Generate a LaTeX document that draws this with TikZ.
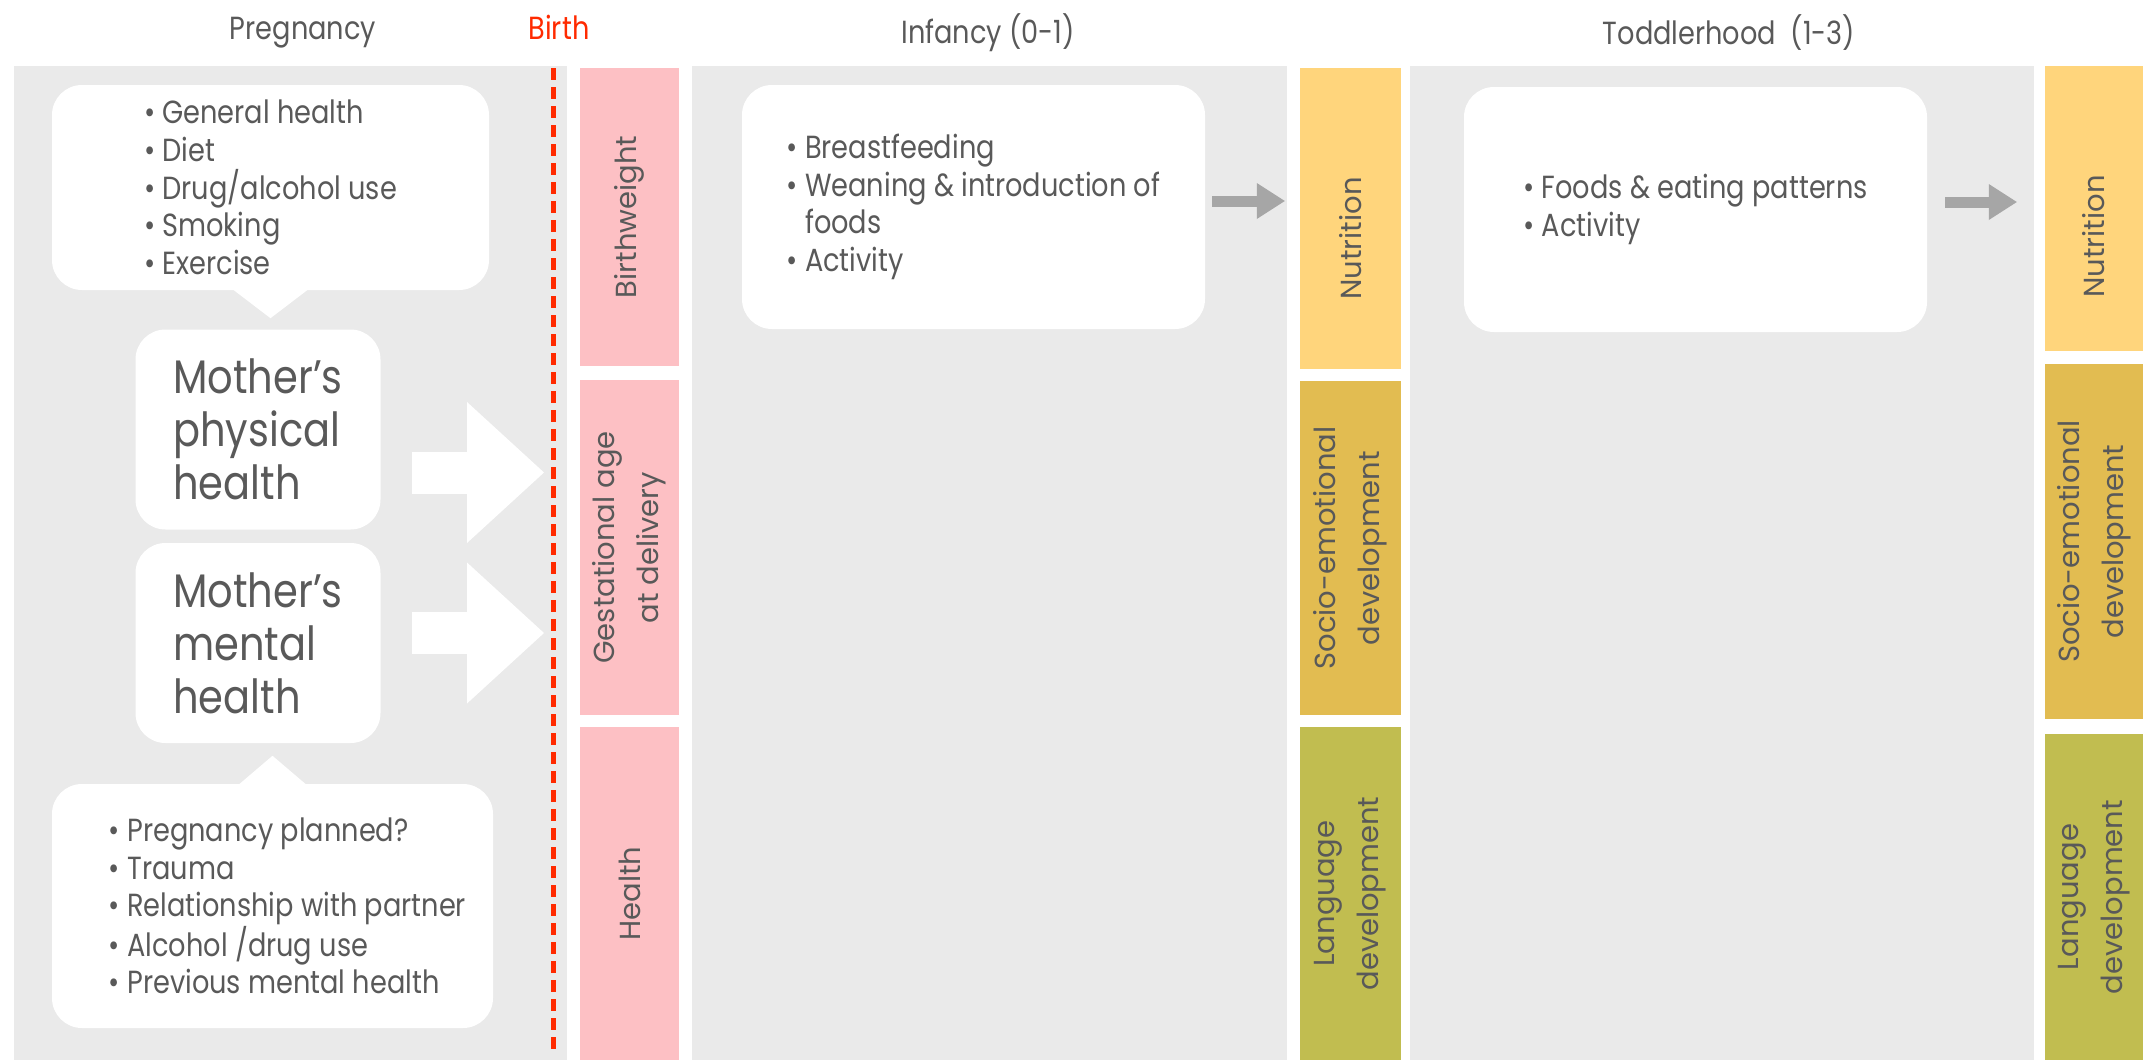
\documentclass[tikz,border=0pt]{standalone}
\usepackage{fontspec}
\setmainfont{Poppins}
\newfontfamily\narrowfont[FakeStretch=0.85]{Poppins}
\usetikzlibrary{arrows.meta, positioning}
\definecolor{panelgray}{RGB}{234,234,234}
\definecolor{labelgray}{RGB}{89,89,89}
\definecolor{birthred}{RGB}{255,42,0}
\definecolor{birthpink}{RGB}{253,192,196}
\definecolor{nutritionyellow}{RGB}{255,213,124}
\definecolor{sociogold}{RGB}{226,188,81}
\definecolor{languageolive}{RGB}{193,189,80}
\definecolor{pointergray}{RGB}{166,166,166}

\begin{document}
\begin{tikzpicture}[
    x=1pt, y=-1pt,
    period/.style={font=\narrowfont\fontsize{32}{38}\selectfont, text=labelgray},
    panel/.style={fill=panelgray},
    bubble/.style={fill=white, rounded corners=30pt, inner sep=0pt, align=left, text=labelgray, font=\narrowfont\fontsize{32}{37.6}\selectfont},
    mother/.style={bubble, minimum width=245pt, minimum height=200pt, font=\narrowfont\fontsize{47}{53}\selectfont},
    band/.style={rotate=90, inner sep=0pt, align=center, text=labelgray, font=\fontsize{29}{44}\selectfont},
    bigarrow/.style={white, line width=42pt, -{Triangle[length=77pt, width=141pt, line width=0pt]}},
    arrow/.style={pointergray, line width=11pt, -{Triangle[length=28pt, width=36pt, line width=0pt]}},
]
\useasboundingbox (0,0) rectangle (2143,1060);

% stage panels
\fill[panel] (14,66) rectangle (567,1060);
\fill[panel] (692,66) rectangle (1287,1060);
\fill[panel] (1410,66) rectangle (2034,1060);

% headings
\node[period] (pregnancy) at (303,33) {Pregnancy};
\node[period, text=birthred] (birth) at (559,27) {Birth};
\node[period] (infancy) at (988,33) {Infancy (0-1)};
\node[period] (toddlerhood) at (1729,33) {Toddlerhood\ \ (1-3)};

% birth line
\coordinate (birthtop) at (553,68);
\coordinate (birthbottom) at (553,1052);
\draw[birthred, line width=5pt, dash pattern=on 12pt off 7pt] (birthtop) -- (birthbottom);

% outcomes at birth
\node[band, fill=birthpink, minimum width=298pt, minimum height=99pt] (birthweight) at (629.5,217) {Birthweight};
\node[band, fill=birthpink, minimum width=335pt, minimum height=99pt] (gestation) at (629.5,547.5) {Gestational age\\at delivery};
\node[band, fill=birthpink, minimum width=333pt, minimum height=99pt] (health) at (629.5,893.5) {Health};

% outcomes after infancy
\node[band, fill=nutritionyellow, minimum width=301pt, minimum height=101pt] (nutrition1) at (1350.5,218.5) {Nutrition\hspace*{40pt}};
\node[band, fill=sociogold, minimum width=334pt, minimum height=101pt] (socio1) at (1350.5,548) {Socio-emotional\\development};
\node[band, fill=languageolive, minimum width=333pt, minimum height=101pt] (language1) at (1350.5,893.5) {Language\\development};

% outcomes after toddlerhood
\node[band, fill=nutritionyellow, minimum width=285pt, minimum height=98pt] (nutrition2) at (2094,208.5) {Nutrition\hspace*{56pt}};
\node[band, fill=sociogold, minimum width=355pt, minimum height=98pt] (socio2) at (2094,541.5) {Socio-emotional\\development};
\node[band, fill=languageolive, minimum width=326pt, minimum height=98pt] (language2) at (2094,897) {Language\\development};

% pregnancy factors
\node[bubble, minimum width=437pt, minimum height=205pt] (physfactors) at (270.5,187.5)
    {\textbullet\ General health\\\textbullet\ Diet\\\textbullet\ Drug/alcohol use\\\textbullet\ Smoking\\\textbullet\ Exercise};
\fill[white] ([xshift=-38pt,yshift=1pt]physfactors.south) -- ([yshift=-28pt]physfactors.south) -- ([xshift=38pt,yshift=1pt]physfactors.south) -- cycle;

\node[mother] (physical) at (258,429.5) {Mother’s\\physical\\health};
\node[mother] (mental) at (258,643) {Mother’s\\mental\\health};

\node[bubble, minimum width=441pt, minimum height=244pt] (mentfactors) at (272.5,906)
    {\hspace*{30pt}\textbullet\ Pregnancy planned?\\\hspace*{30pt}\textbullet\ Trauma\\\hspace*{30pt}\textbullet\ Relationship with partner\\\hspace*{30pt}\textbullet\ Alcohol /drug use\\\hspace*{30pt}\textbullet\ Previous mental health};
\fill[white] ([xshift=-34pt,yshift=-1pt]mentfactors.north) -- ([yshift=28pt]mentfactors.north) -- ([xshift=34pt,yshift=-1pt]mentfactors.north) -- cycle;

\coordinate (physout) at ([xshift=31pt,yshift=-43pt]physical.east);
\coordinate (mentout) at ([xshift=31pt,yshift=10pt]mental.east);
\draw[bigarrow, shorten >=9pt] (physout) -- (physout -| birthtop);
\draw[bigarrow, shorten >=9pt] (mentout) -- (mentout -| birthtop);

% infancy and toddlerhood factors
\node[bubble, minimum width=463pt, minimum height=244pt] (infancyfactors) at (973.5,207)
    {\textbullet\ Breastfeeding\\\textbullet\ Weaning \& introduction of\\\hphantom{\textbullet\ }foods\\\textbullet\ Activity};
\node[bubble, minimum width=463pt, minimum height=245pt] (toddlerfactors) at (1695.5,209.5)
    {\textbullet\ Foods \& eating patterns\\\textbullet\ Activity};

% rotated bands: their north anchor faces left
\coordinate (infancyout) at ([yshift=6pt]infancyfactors.east);
\coordinate (toddlerout) at ([yshift=7.5pt]toddlerfactors.east);
\draw[arrow, shorten <=7pt, shorten >=15pt] (infancyout) -- (infancyout -| nutrition1.north);
\draw[arrow, shorten <=18pt, shorten >=28pt] (toddlerout) -- (toddlerout -| nutrition2.north);

\end{tikzpicture}
\end{document}
